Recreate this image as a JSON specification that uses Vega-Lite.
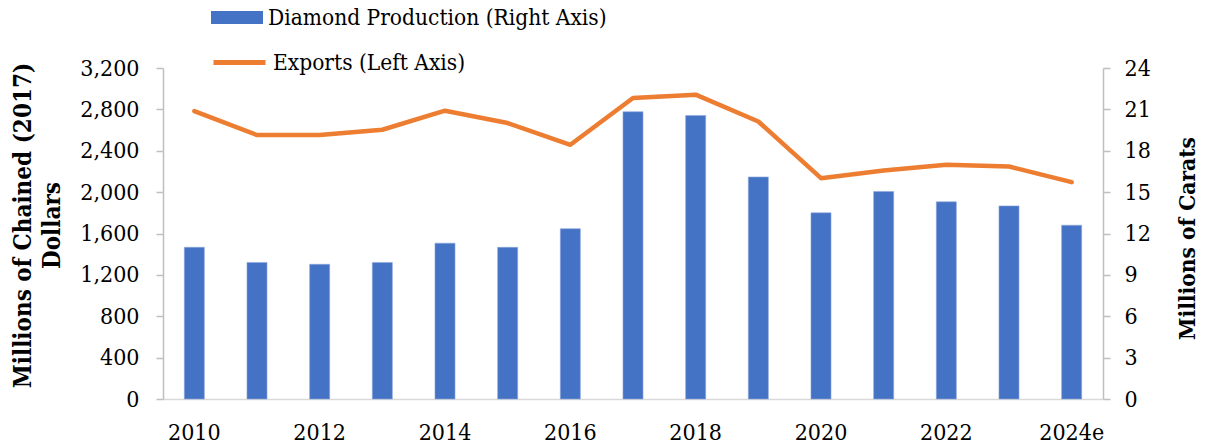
{
  "$schema": "https://vega.github.io/schema/vega-lite/v6.json",
  "width": 940,
  "height": 331,
  "autosize": {"type": "none"},
  "padding": {"left": 163, "top": 68, "right": 104, "bottom": 48},
  "background": "white",
  "config": {
    "view": {"stroke": null},
    "font": "DejaVu Serif Condensed, Liberation Serif, serif",
    "axis": {"labelColor": "#000000", "titleColor": "#000000", "grid": false, "labelFontSize": 23, "titleFontSize": 23, "titleFontWeight": "bold"},
    "legend": {"labelColor": "#000000"}
  },
  "data": {
    "values": [
      {"year": "2010", "production": 11.0, "exports": 2784},
      {"year": "2011", "production": 9.9, "exports": 2552},
      {"year": "2012", "production": 9.77, "exports": 2552},
      {"year": "2013", "production": 9.9, "exports": 2603},
      {"year": "2014", "production": 11.3, "exports": 2787},
      {"year": "2015", "production": 11.0, "exports": 2668},
      {"year": "2016", "production": 12.35, "exports": 2458},
      {"year": "2017", "production": 20.83, "exports": 2910},
      {"year": "2018", "production": 20.56, "exports": 2942},
      {"year": "2019", "production": 16.1, "exports": 2683},
      {"year": "2020", "production": 13.5, "exports": 2135},
      {"year": "2021", "production": 15.05, "exports": 2209},
      {"year": "2022", "production": 14.3, "exports": 2264},
      {"year": "2023", "production": 14.0, "exports": 2248},
      {"year": "2024e", "production": 12.6, "exports": 2097}
    ]
  },
  "layer": [
    {
      "mark": {"type": "bar", "stroke": "#8EA9DB", "strokeWidth": 0.6},
      "encoding": {
        "x": {
          "field": "year", "type": "ordinal", "sort": null,
          "scale": {"paddingInner": 0.68, "paddingOuter": 0.34},
          "axis": {
            "title": null, "labelAngle": 0, "ticks": false,
            "values": ["2010", "2012", "2014", "2016", "2018", "2020", "2022", "2024e"],
            "domainColor": "#D9D9D9", "domainWidth": 1.5, "labelPadding": 22
          }
        },
        "y": {
          "field": "production", "type": "quantitative",
          "scale": {"domain": [0, 24], "nice": false},
          "axis": {
            "orient": "right", "values": [0, 3, 6, 9, 12, 15, 18, 21, 24], "format": "d",
            "domainColor": "#BFBFBF", "tickColor": "#BFBFBF", "domainWidth": 1.5, "tickWidth": 1.5, "tickSize": 7, "labelPadding": 14,
            "title": "Millions of Carats", "titleAngle": -90, "titleX": 84, "titleY": 170, "titleFontSize": 22.5,
            "titleAlign": "center", "titleBaseline": "middle"
          }
        },
        "fill": {
          "datum": "Diamond Production (Right Axis)",
          "scale": {"range": ["#4472C4"]},
          "legend": {
            "orient": "none", "legendX": 48, "legendY": -76.5, "title": null, "padding": 0,
            "symbolType": "M-1,-0.25H1V0.25H-1Z", "symbolSize": 2704, "symbolStrokeWidth": 0,
            "labelFontSize": 22.5, "labelOffset": 5, "labelLimit": 600
          }
        }
      }
    },
    {
      "mark": {"type": "line", "strokeWidth": 4.5, "strokeCap": "round", "strokeJoin": "round"},
      "encoding": {
        "x": {"field": "year", "type": "ordinal", "sort": null},
        "y": {
          "field": "exports", "type": "quantitative",
          "scale": {"domain": [0, 3200], "nice": false},
          "axis": {
            "orient": "left", "values": [0, 400, 800, 1200, 1600, 2000, 2400, 2800, 3200], "format": ",d",
            "domainColor": "#BFBFBF", "tickColor": "#BFBFBF", "domainWidth": 1.5, "tickWidth": 1.5, "tickSize": 7, "labelPadding": 17,
            "title": ["Millions of Chained (2017)", "Dollars"], "titleAngle": -90, "titleX": -140, "titleY": 157, "titleFontSize": 24,
            "titleAlign": "center", "titleBaseline": "middle", "titleLineHeight": 29
          }
        },
        "stroke": {
          "datum": "Exports (Left Axis)",
          "scale": {"range": ["#ED7D31"]},
          "legend": {
            "orient": "none", "legendX": 48, "legendY": -34, "title": null, "padding": 0,
            "symbolType": "stroke", "symbolSize": 2704, "symbolStrokeWidth": 5,
            "labelFontSize": 22.5, "labelOffset": 5, "labelLimit": 600
          }
        }
      }
    }
  ],
  "resolve": {"scale": {"y": "independent", "fill": "independent", "stroke": "independent"}}
}
